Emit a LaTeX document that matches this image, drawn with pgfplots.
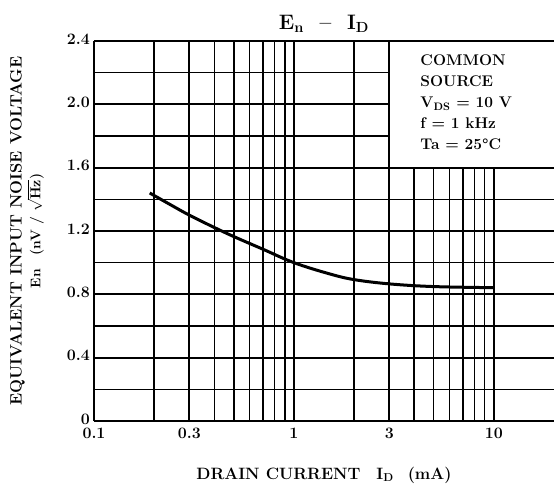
\documentclass[border=0pt]{standalone}
\usepackage{pgfplots}
\pgfplotsset{compat=1.18}
\usetikzlibrary{calc}
\begin{document}
\begin{tikzpicture}
\begin{axis}[
  name=ax,
  scale only axis, width=460bp, height=380bp,
  xmode=log, xmin=0.1, xmax=20, ymin=0, ymax=2.4,
  clip=false,
  axis line style={draw=none},
  major tick length=0pt, minor tick length=0pt,
  xtick={0.1,0.3,1,3,10}, xticklabels={0.1,0.3,1,3,10},
  minor xtick={0.2,0.4,0.5,0.6,0.7,0.8,0.9,2,4,5,6,7,8,9},
  ytick={0,0.4,0.8,1.2,1.6,2.0,2.4}, yticklabels={0,0.4,0.8,1.2,1.6,2.0,2.4},
  minor ytick={0.2,0.6,1.0,1.4,1.8,2.2},
  grid=both,
  major grid style={black, line width=1.8bp},
  minor grid style={black, line width=1.6bp},
  ticklabel style={font=\fontsize{16}{19}\selectfont\bfseries, inner sep=1bp},
  yticklabel style={xshift=-3bp, yshift=2bp},
  xticklabel style={yshift=-6bp},
  title={E\textsubscript{n}\ \ --\ \ I\textsubscript{D}},
  every axis title/.style={at={(axis description cs:0.5,1.045)}, anchor=center, font=\fontsize{21}{25}\selectfont\bfseries},
  xlabel={DRAIN CURRENT\hspace{16bp}I\textsubscript{D}\hspace{14bp}(mA)},
  every axis x label/.style={at={(axis description cs:0.5,-0.142)}, anchor=center, font=\fontsize{16.5}{19}\selectfont\bfseries},
  ylabel={EQUIVALENT INPUT NOISE VOLTAGE\\[0bp]{\fontsize{14}{16}\selectfont En\hspace{14bp}(nV / $\sqrt{\mathbf{Hz}}$)}},
  every axis y label/.style={at={(axis description cs:-0.1457,0.5)}, rotate=90, anchor=center, align=center, font=\fontsize{16.5}{19}\selectfont\bfseries},
]
\addplot[black, line width=3bp, smooth, tension=0.6] coordinates {
  (0.19,1.44) (0.25,1.355) (0.3,1.30) (0.4,1.222) (0.5,1.165) (0.7,1.085)
  (1,1.0) (1.5,0.93) (2,0.893) (3,0.866) (5,0.849) (10,0.842)
};
\fill[white] (axis cs:3,1.6) rectangle (axis cs:20,2.4);
\draw[black, line width=1.8bp] (axis cs:20,1.6) -- (axis cs:3,1.6) -- (axis cs:3,2.4) -- (axis cs:20,2.4);
\node[anchor=north west, align=left, inner sep=0pt, font=\fontsize{15.5}{21}\selectfont\bfseries]
  at ($(axis cs:3,2.4)+(31bp,-14bp)$)
  {COMMON\\SOURCE\\V\textsubscript{DS} = 10 V\\f = 1 kHz\\Ta = 25\textdegree C};
\end{axis}
\pgfresetboundingbox
\path[use as bounding box] ($(ax.south west)+(-94bp,-67bp)$) rectangle ($(ax.north east)+(0bp,41bp)$);
\end{tikzpicture}
\end{document}
